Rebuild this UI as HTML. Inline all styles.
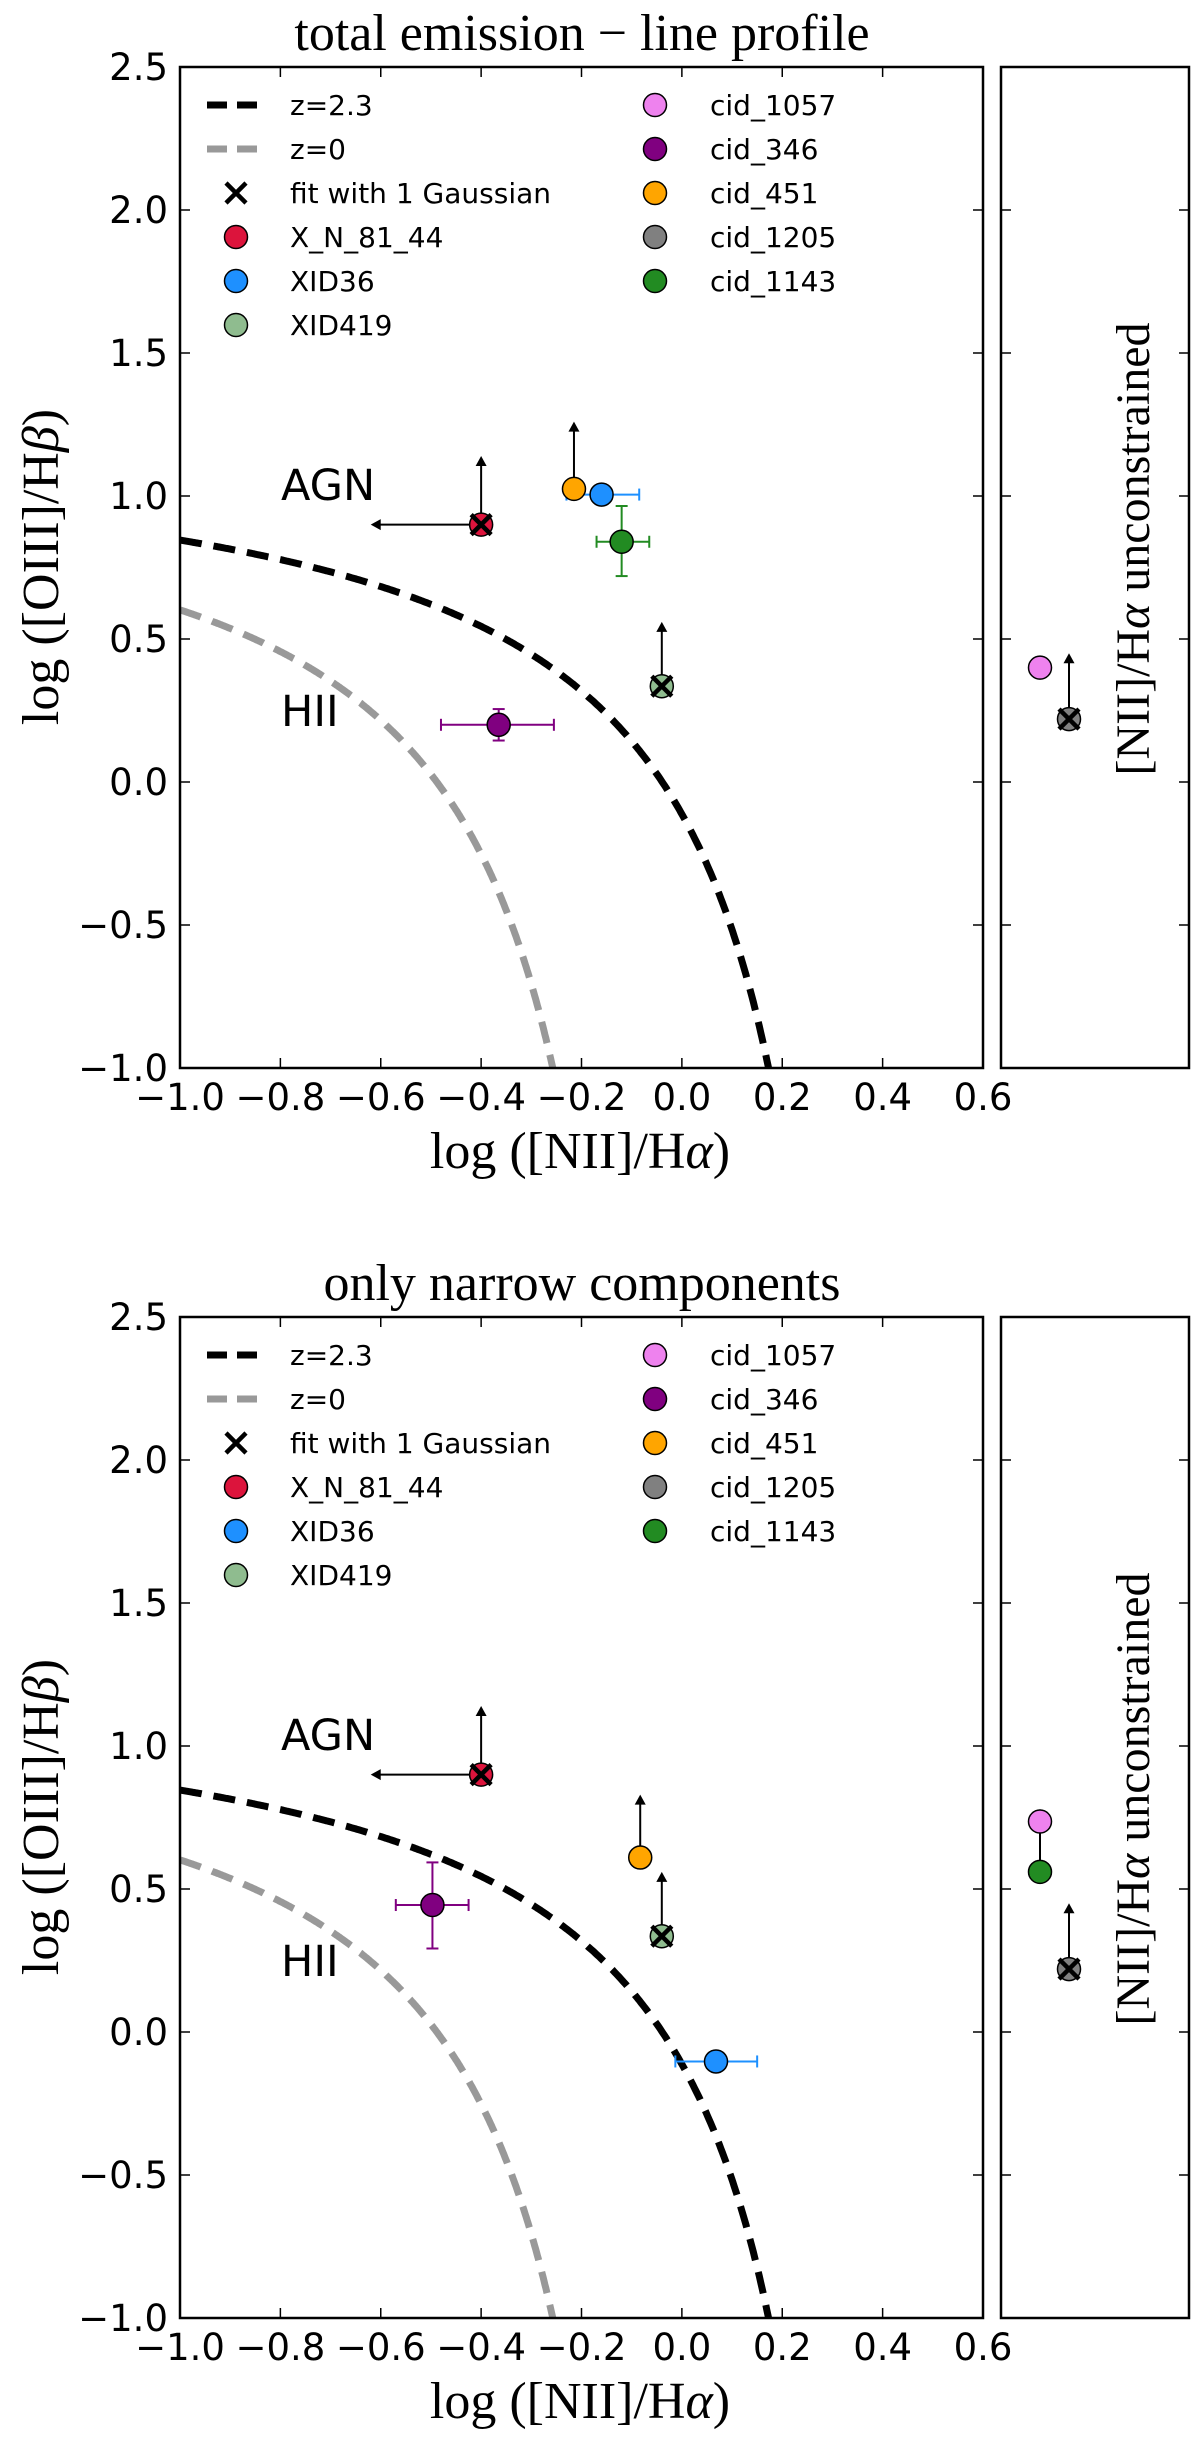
<!DOCTYPE html>
<html><head><meta charset="utf-8"><style>
html,body{margin:0;padding:0;background:#fff;width:1200px;height:2439px;overflow:hidden;}
svg{display:block;}
.tk{font-family:"DejaVu Sans","Liberation Sans",sans-serif;font-size:37px;fill:#000;}
.lg{font-family:"DejaVu Sans","Liberation Sans",sans-serif;font-size:28px;fill:#000;}
.big{font-family:"DejaVu Sans","Liberation Sans",sans-serif;font-size:43px;fill:#000;}
.ser{font-family:"Liberation Serif",serif;font-size:52px;fill:#000;}
</style></head><body>
<svg id="fig" width="1200" height="2439" viewBox="0 0 1200 2439" xmlns="http://www.w3.org/2000/svg"></svg>
<script>
// ---- data ----
const xTicks = [-1.0, -0.8, -0.6, -0.4, -0.2, 0.0, 0.2, 0.4, 0.6];
const yTicks = [-1.0, -0.5, 0.0, 0.5, 1.0, 1.5, 2.0, 2.5];
const xTickLabels = ["\u22121.0","\u22120.8","\u22120.6","\u22120.4","\u22120.2","0.0","0.2","0.4","0.6"];
const yTickLabels = ["\u22121.0","\u22120.5","0.0","0.5","1.0","1.5","2.0","2.5"];
const redshifts = [2.3, 0];
const panelTitles = ["total emission \u2212 line profile", "only narrow components"];
const legendNames = ["X_N_81_44","XID36","XID419","cid_1057","cid_346","cid_451","cid_1205","cid_1143"];
const legendColors = ["#dc143c","#1e90ff","#8fbc8f","#ee82ee","#800080","#ffa500","#808080","#228b22"];

const topNames = ["X_N_81_44","cid_451","XID36","cid_1143","XID419","cid_346"];
const topX = [-0.40, -0.215, -0.16, -0.12, -0.04, -0.365];
const topY = [0.90, 1.025, 1.005, 0.84, 0.335, 0.20];
const topXerrLo = [null, null, -0.23, -0.17, null, -0.48];
const topXerrHi = [null, null, -0.085, -0.065, null, -0.255];
const topYerrLo = [null, null, null, 0.72, null, 0.145];
const topYerrHi = [null, null, null, 0.965, null, 0.255];
const topArrowUp = [1.14, 1.26, null, null, 0.56, null];
const topArrowLeft = [-0.62, null, null, null, null, null];
const topCross = [true, false, false, false, true, false];
const topSideNames = ["cid_1057","cid_1205"];
const topSideY = [0.40, 0.22];
const topSideArrow = [null, 0.45];
const topSideCross = [false, true];
const topSideCol = [0, 1];

const botNames = ["X_N_81_44","cid_451","XID419","cid_346","XID36"];
const botX = [-0.40, -0.083, -0.04, -0.497, 0.068];
const botY = [0.90, 0.61, 0.335, 0.444, -0.103];
const botXerrLo = [null, null, null, -0.57, -0.013];
const botXerrHi = [null, null, null, -0.425, 0.15];
const botYerrLo = [null, null, null, 0.292, null];
const botYerrHi = [null, null, null, 0.593, null];
const botArrowUp = [1.14, 0.83, 0.56, null, null];
const botArrowLeft = [-0.62, null, null, null, null];
const botCross = [true, false, true, false, false];
const botSideNames = ["cid_1143","cid_1057","cid_1205"];
const botSideY = [0.56, 0.736, 0.22];
const botSideArrow = [0.78, null, 0.45];
const botSideCross = [false, false, true];
const botSideCol = [0, 0, 1];

// ---- drawing ----
const NS = "http://www.w3.org/2000/svg";
const fig = document.getElementById('fig');
function mk(tag, attrs, parent){
  const e = document.createElementNS(NS, tag);
  for (const k in attrs) e.setAttribute(k, attrs[k]);
  (parent||fig).appendChild(e);
  return e;
}
const colorOf = n => legendColors[legendNames.indexOf(n)];
const X0=180, X1=983, SX0=1001, SX1=1189, H=1001;
const sx = v => X0 + (v+1.0)/1.6*(X1-X0);
const sideCols = [1040, 1069];

function kewley(x, z){ return 0.61/(x-0.02-0.1833*z) + 1.2 + 0.03*z; }

function marker(g, cx, cy, col, cross, name){
  const c = mk('circle',{cx:cx,cy:cy,r:11.5,fill:col,stroke:'#000','stroke-width':1.5},g);
  
  
  if (cross){
    const p = mk('path',{d:`M${cx-10},${cy-10}L${cx+10},${cy+10}M${cx-10},${cy+10}L${cx+10},${cy-10}`,stroke:'#000','stroke-width':4.5,fill:'none'},g);
    
    
  }
}
function arrowUp(g, x, y0, y1){
  mk('line',{x1:x,y1:y0,x2:x,y2:y1+6,stroke:'#000','stroke-width':2},g);
  mk('path',{d:`M${x-5.5},${y1+10}L${x},${y1}L${x+5.5},${y1+10}Z`,fill:'#000'},g);
}
function arrowLeft(g, y, x0, x1){
  mk('line',{x1:x0,y1:y,x2:x1+6,y2:y,stroke:'#000','stroke-width':2},g);
  mk('path',{d:`M${x1+10},${y-5.5}L${x1},${y}L${x1+10},${y+5.5}Z`,fill:'#000'},g);
}

function panel(idx, top, names, px, py, xlo, xhi, ylo, yhi, aUp, aLeft, cross, sNames, sY, sArrow, sCross, sCol){
  const g = mk('g',{});
  
  
  const bot = top+H;
  const sy = v => top + (2.5-v)/3.5*H;
  const cid = 'clip'+idx;
  const cp = mk('clipPath',{id:cid},g);
  mk('rect',{x:X0,y:top,width:X1-X0,height:H},cp);
  const t = mk('text',{x:582,y:top-17,'text-anchor':'middle',class:'ser'},g);
  t.textContent = panelTitles[idx];
  
  
  const cg = mk('g',{'clip-path':`url(#${cid})`},g);
  redshifts.forEach((z)=>{
    const xmax = 0.02+0.1833*z + 0.61/(-1 - 1.2 - 0.03*z) + 0.005;
    const n=400;
    let d='';
    for (let k=0;k<=n;k++){
      const x = -1.0 + (xmax+1.0)*k/n;
      const y = kewley(x,z);
      d += (k?'L':'M')+sx(x).toFixed(1)+','+sy(y).toFixed(1);
    }
    const p = mk('path',{d:d,fill:'none',stroke:z>1?'#000':'#999','stroke-width':7,'stroke-dasharray':'22,12'},cg);
    
    
  });
  const a = mk('text',{x:281,y:top+433,class:'big'},g); a.textContent='AGN';
   
  const h2 = mk('text',{x:281,y:top+659,class:'big'},g); h2.textContent='HII';
   
  names.forEach((n,i)=>{
    const col = colorOf(n), cx=sx(px[i]), cy=sy(py[i]);
    if (xlo[i]!==null){
      mk('line',{x1:sx(xlo[i]),y1:cy,x2:sx(xhi[i]),y2:cy,stroke:col,'stroke-width':2},g);
      mk('line',{x1:sx(xlo[i]),y1:cy-6,x2:sx(xlo[i]),y2:cy+6,stroke:col,'stroke-width':2},g);
      mk('line',{x1:sx(xhi[i]),y1:cy-6,x2:sx(xhi[i]),y2:cy+6,stroke:col,'stroke-width':2},g);
    }
    if (ylo[i]!==null){
      mk('line',{x1:cx,y1:sy(ylo[i]),x2:cx,y2:sy(yhi[i]),stroke:col,'stroke-width':2},g);
      mk('line',{x1:cx-6,y1:sy(ylo[i]),x2:cx+6,y2:sy(ylo[i]),stroke:col,'stroke-width':2},g);
      mk('line',{x1:cx-6,y1:sy(yhi[i]),x2:cx+6,y2:sy(yhi[i]),stroke:col,'stroke-width':2},g);
    }
    if (aUp[i]!==null) arrowUp(g,cx,cy,sy(aUp[i]));
    if (aLeft[i]!==null) arrowLeft(g,cy,cx,sx(aLeft[i]));
  });
  names.forEach((n,i)=> marker(g, sx(px[i]), sy(py[i]), colorOf(n), cross[i], n));
  const fr = mk('rect',{x:X0,y:top,width:X1-X0,height:H,fill:'none',stroke:'#000','stroke-width':2.5},g);
   
  xTicks.forEach((v,i)=>{
    const x=sx(v);
    mk('line',{x1:x,y1:bot,x2:x,y2:bot-10,stroke:'#000','stroke-width':1.5},g);
    mk('line',{x1:x,y1:top,x2:x,y2:top+10,stroke:'#000','stroke-width':1.5},g);
    const tl = mk('text',{x:x,y:bot+42,'text-anchor':'middle',class:'tk'},g);
    tl.textContent = xTickLabels[i];
     
  });
  yTicks.forEach((v,i)=>{
    const y=sy(v);
    mk('line',{x1:X0,y1:y,x2:X0+10,y2:y,stroke:'#000','stroke-width':1.5},g);
    mk('line',{x1:X1,y1:y,x2:X1-10,y2:y,stroke:'#000','stroke-width':1.5},g);
    mk('line',{x1:SX0,y1:y,x2:SX0+10,y2:y,stroke:'#000','stroke-width':1.5},g);
    mk('line',{x1:SX1,y1:y,x2:SX1-10,y2:y,stroke:'#000','stroke-width':1.5},g);
    const tl = mk('text',{x:168,y:y+13,'text-anchor':'end',class:'tk'},g);
    tl.textContent = yTickLabels[i];
     
  });
  const xl = mk('text',{x:580,y:bot+100,'text-anchor':'middle',class:'ser'},g);
  xl.innerHTML = 'log ([NII]/H<tspan font-style="italic">α</tspan>)';
   
  const yl = mk('text',{x:0,y:0,'text-anchor':'middle',class:'ser',transform:`translate(58,${top+500}) rotate(-90)`},g);
  yl.innerHTML = 'log ([OIII]/H<tspan font-style="italic">β</tspan>)';
   
  const lg = mk('g',{},g);
   
  const ly = k => top + 38 + k*44;
  mk('line',{x1:207,y1:ly(0),x2:265,y2:ly(0),stroke:'#000','stroke-width':7,'stroke-dasharray':'20,10'},lg);
  mk('line',{x1:207,y1:ly(1),x2:265,y2:ly(1),stroke:'#999','stroke-width':7,'stroke-dasharray':'20,10'},lg);
  const lt = ['z=2.3','z=0','fit with 1 Gaussian'];
  lt.forEach((s,k)=>{ const e=mk('text',{x:290,y:ly(k)+10,class:'lg'},lg); e.textContent=s;
      });
  mk('path',{d:`M${236-10},${ly(2)-10}L${236+10},${ly(2)+10}M${236-10},${ly(2)+10}L${236+10},${ly(2)-10}`,stroke:'#000','stroke-width':4.5},lg);
  legendNames.forEach((n,k)=>{
    const col = k<3?0:1, row = k<3? k+3 : k-3;
    const mx = col?655:236, tx = col?710:290;
    mk('circle',{cx:mx,cy:ly(row),r:11.5,fill:legendColors[k],stroke:'#000','stroke-width':1.5},lg);
    const e=mk('text',{x:tx,y:ly(row)+10,class:'lg'},lg); e.textContent=n;
     
  });
  sNames.forEach((n,i)=>{ if (sArrow[i]!==null) arrowUp(g, sideCols[sCol[i]], sy(sY[i]), sy(sArrow[i])); });
  sNames.forEach((n,i)=> marker(g, sideCols[sCol[i]], sy(sY[i]), colorOf(n), sCross[i], n));
  const sf = mk('rect',{x:SX0,y:top,width:SX1-SX0,height:H,fill:'none',stroke:'#000','stroke-width':2.5},g);
   
  const st = mk('text',{x:0,y:0,'text-anchor':'middle',class:'ser',style:'font-size:48px',transform:`translate(1149,${top+482}) rotate(-90)`},g);
  st.innerHTML = '[NII]/H<tspan font-style="italic">α</tspan> unconstrained';
   
}

panel(0, 67, topNames, topX, topY, topXerrLo, topXerrHi, topYerrLo, topYerrHi, topArrowUp, topArrowLeft, topCross,
      topSideNames, topSideY, topSideArrow, topSideCross, topSideCol);
panel(1, 1317, botNames, botX, botY, botXerrLo, botXerrHi, botYerrLo, botYerrHi, botArrowUp, botArrowLeft, botCross,
      botSideNames, botSideY, botSideArrow, botSideCross, botSideCol);
</script>
</body></html>
